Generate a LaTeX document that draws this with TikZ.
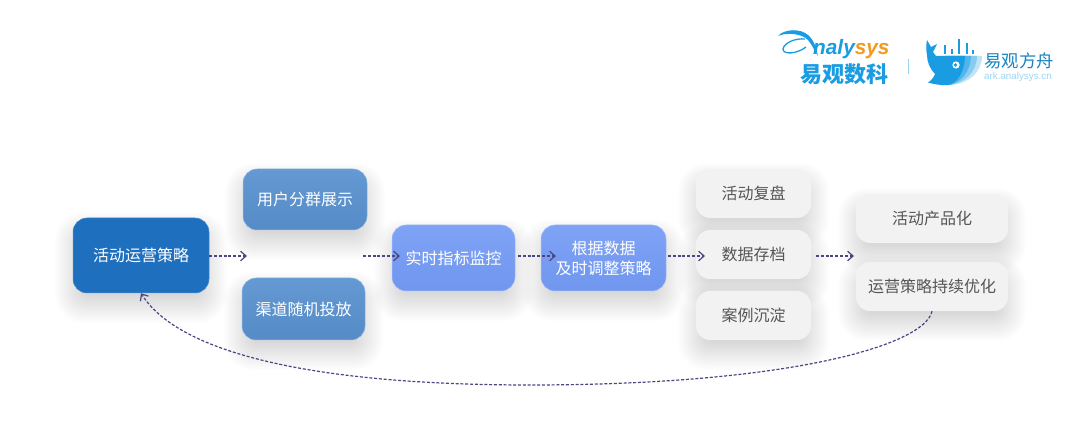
\documentclass[tikz,border=0pt]{standalone}
\usepackage{fontspec}
\setmainfont{Noto Sans CJK SC}
\newfontfamily\latinfont{Liberation Sans}
\usetikzlibrary{arrows.meta}
\definecolor{arrowc}{HTML}{4A4682}
\definecolor{logob}{HTML}{1A9CE3}
\definecolor{logoo}{HTML}{F39A1E}
\definecolor{boxdark}{HTML}{1F6FBF}
\definecolor{boxmidt}{HTML}{6499D3}
\definecolor{boxmidb}{HTML}{558BC6}
\definecolor{boxlitet}{HTML}{7EA3F6}
\definecolor{boxliteb}{HTML}{7096EE}
\definecolor{boxgrey}{HTML}{F2F2F2}
\definecolor{boxtext}{HTML}{555555}
\tikzset{
  x=1pt,y=-1pt,
  boxbase/.style={rounded corners=14pt,inner sep=0pt,align=center,font=\fontsize{16}{20}\selectfont},
  darkbox/.style={boxbase,fill=boxdark,draw=boxdark!80!white,line width=0.5pt,text=white},
  midbox/.style={boxbase,top color=boxmidt,bottom color=boxmidb,draw=boxmidt!70!white,line width=0.5pt,text=white},
  lightbox/.style={boxbase,top color=boxlitet,bottom color=boxliteb,draw=boxlitet!70!white,line width=0.5pt,text=white},
  greybox/.style={boxbase,fill=boxgrey,text=boxtext},
  flow/.style={arrowc,line width=1.2pt,dash pattern=on 3pt off 1.8pt,-{Straight Barb[length=5.5pt,width=9.5pt,line width=1.2pt]}},
}
% name, style, x0, y0, x1, y1, text
\newcommand{\softnode}[7]{%
  \pgfmathsetmacro{\boxw}{#5-#3}\pgfmathsetmacro{\boxh}{#6-#4}%
  \foreach \e in {18,16.5,15,13.5,12,10.5,9,7.5,6,4.5,3,1.5,0,-1.5,-3,-4.5,-6,-7.5,-9}{%
    \pgfmathsetmacro{\rr}{max(8,14+\e*0.8)}%
    \fill[black,opacity=0.008,rounded corners=\rr pt] ({#3-\e},{#4+12-\e}) rectangle ({#5+\e},{#6+12+\e});
  }%
  \node[#2,minimum width=\boxw pt,minimum height=\boxh pt] (#1) at ({(#3+#5)/2},{(#4+#6)/2}) {#7};%
}
\begin{document}
\begin{tikzpicture}
\fill[white] (0,0) rectangle (1080,430);
\useasboundingbox (0,0) rectangle (1080,430);

\softnode{a}{darkbox}{73}{218}{209}{293}{活动运营策略}
\softnode{b}{midbox}{243}{169}{367}{230}{用户分群展示}
\softnode{c}{midbox}{242}{278}{365}{340}{渠道随机投放}
\softnode{d}{lightbox}{392}{225}{515}{291}{实时指标监控}
\softnode{e}{lightbox}{541}{225}{666}{291}{根据数据\\及时调整策略}
\softnode{f}{greybox}{696}{169}{811}{218}{活动复盘}
\softnode{g}{greybox}{696}{230}{811}{279}{数据存档}
\softnode{h}{greybox}{696}{291}{811}{340}{案例沉淀}
\softnode{i}{greybox}{856}{194}{1008}{243}{活动产品化}
\softnode{j}{greybox}{856}{262}{1008}{311}{运营策略持续优化}

\coordinate (a1) at (247,256);
\coordinate (b0) at (363,256);
\coordinate (b1) at (400,256);
\coordinate (d0) at (518,256);
\coordinate (d1) at (556,256);
\coordinate (e0) at (668,256);
\coordinate (e1) at (705,256);
\coordinate (g0) at (816,256);
\coordinate (g1) at (854,256);
\coordinate (m) at (530,385);

\draw[flow] (a.east |- a1) -- (a1);
\draw[flow] (b0) -- (b1);
\draw[flow] (d0) -- (d1);
\draw[flow] (e0) -- (e1);
\draw[flow] (g0) -- (g1);
\draw[flow] (j.south) .. controls (925,345) and (790,385) .. (m)
  .. controls (320,385) and (180,355) .. (a.south);

% Analysys logo
\fill[logob] (778,36) .. controls (784,29) and (800,28) .. (808,35)
  .. controls (815,41) and (816,49) .. (818,56)
  .. controls (813,49) and (811,41) .. (804,37)
  .. controls (796,33) and (785,33) .. (778,36) -- cycle;
\draw[logob,line width=1.3pt] (805,39) .. controls (795,38) and (784,43) .. (783,49)
  .. controls (783,55) and (797,54) .. (806,47);
\node[anchor=base west,inner sep=0pt,font=\latinfont\bfseries\itshape\fontsize{20.8}{21}\selectfont] (an) at (813,55)
  {\textcolor{logob}{naly}\textcolor{logoo}{sys}};
\node[inner sep=0pt,text=logob,font=\bfseries\fontsize{22}{22}\selectfont] (yg) at (844,74) {易观数科};
\draw[logob!45!white,line width=0.8pt] (908.5,59) -- (908.5,74);

% whale
\fill[logob!28!white] (945,56) -- (982,56) .. controls (982,72) and (968,85) .. (948,85) -- cycle;
\fill[logob!52!white] (945,56) -- (977,56) .. controls (977,72) and (964,84) .. (948,85) -- cycle;
\fill[logob!76!white] (945,56) -- (971,56) .. controls (971,71) and (960,84) .. (948,85) -- cycle;
\fill[logob] (927,40) -- (931,47) -- (937,44) -- (933,52) -- (936,56) -- (965,56)
  .. controls (965,71) and (957,84) .. (948,85) .. controls (940,85.5) and (933,84) .. (928,82.5)
  .. controls (931,81) and (934,77) .. (935,74) .. controls (930,69) and (927,62) .. (927,55)
  .. controls (926,50) and (926,45) .. (927,40) -- cycle;
\foreach \bx/\by in {945/45,952/49,959/39,967/43,973/50}{
  \fill[logob] ({\bx-1.3},\by) rectangle ({\bx+1.3},54.5);
}
\fill[white] (956,65) circle (3.6pt);
\fill[logob] (955.5,65) circle (1.9pt);
\node[anchor=west,inner sep=0pt,text=logob!85!black,font=\fontsize{17.4}{17.4}\selectfont] (yf) at (984,60.5) {易观方舟};
\node[anchor=west,inner sep=0pt,text=logob!42!white,font=\latinfont\fontsize{9.8}{9.8}\selectfont] (ark) at (984,76.5) {ark.analysys.cn};
\end{tikzpicture}
\end{document}
